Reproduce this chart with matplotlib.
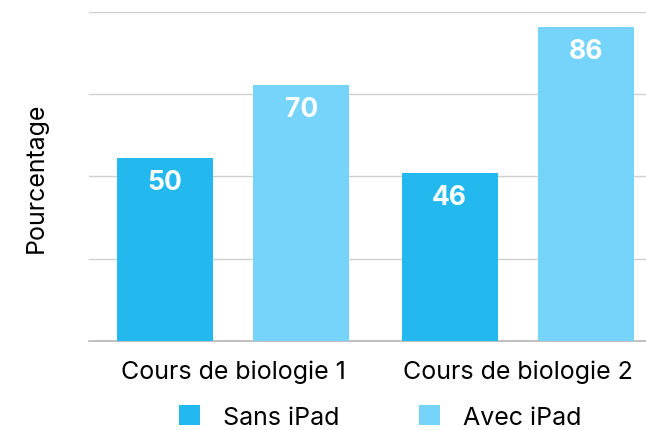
import matplotlib.pyplot as plt
import numpy as np
from matplotlib.patches import Patch

plt.rcParams['font.family'] = ['Inter', 'DejaVu Sans']

categories = ['Cours de biologie 1', 'Cours de biologie 2']
sans_ipad = [50, 46]
avec_ipad = [70, 86]
series_names = ['Sans iPad', 'Avec iPad']
colors = ['#24B9EE', '#76D4FB']

fig = plt.figure(figsize=(6.46, 4.31), dpi=100)
ax = fig.add_axes([89 / 646, 1 - 342 / 431, 557 / 646, 329 / 431])

x = np.arange(len(categories))
offset = 0.24
width = 0.337

b1 = ax.bar(x - offset, sans_ipad, width, color=colors[0], zorder=3)
b2 = ax.bar(x + offset, avec_ipad, width, color=colors[1], zorder=3)

# value labels inside the bars, near the top
for bars in (b1, b2):
    for rect in bars:
        h = rect.get_height()
        ax.annotate(f'{h:g}', xy=(rect.get_x() + rect.get_width() / 2, h),
                    xytext=(0, -8), textcoords='offset points',
                    ha='center', va='top', color='white',
                    fontsize=19, fontweight='bold', zorder=4)

ax.set_xlim(-0.505, 1.449)
ax.set_ylim(0, 90)
ax.set_yticks([0, 22.5, 45, 67.5, 90])
ax.yaxis.grid(True, color='#CFCFCF', linewidth=1)
ax.set_axisbelow(True)
ax.tick_params(axis='y', length=0, labelleft=False)
ax.tick_params(axis='x', length=0, pad=13, labelsize=18)
ax.set_xticks(x)
ax.set_xticklabels(categories)

for side in ('top', 'right', 'left'):
    ax.spines[side].set_visible(False)
ax.spines['bottom'].set_color('#B5B5B5')
ax.spines['bottom'].set_linewidth(1.2)

ax.set_ylabel('Pourcentage', fontsize=18, labelpad=30)

handles = [Patch(facecolor=c, edgecolor='none') for c in colors]
fig.legend(handles, series_names, loc='center', bbox_to_anchor=(380 / 646, 1 - 418 / 431),
           ncol=2, frameon=False, fontsize=18, handlelength=0.85, handleheight=0.85,
           handletextpad=0.9, columnspacing=3.2)

fig.savefig('out.png', dpi=100)
